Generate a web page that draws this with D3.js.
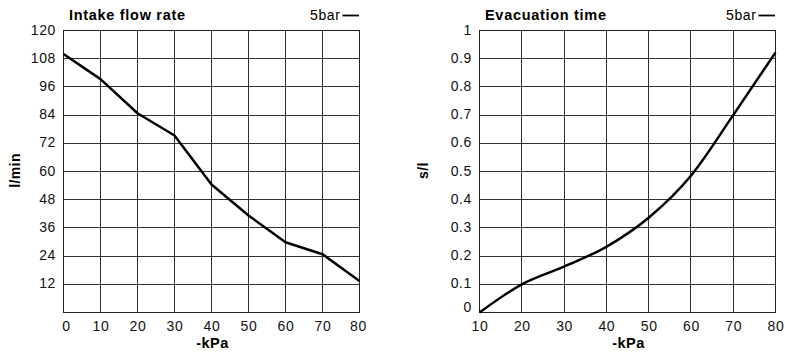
<!DOCTYPE html>
<html><head><meta charset="utf-8">
<script src="https://cdn.jsdelivr.net/npm/d3@7"></script>
<style>body{margin:0;background:#fff}svg{display:block}text{font-family:"Liberation Sans",Arial,sans-serif}</style>
</head><body>
<svg id="c" width="785" height="353"></svg>
<script>
// Intake flow rate chart
const flowKpa = [0, 10, 20, 30, 40, 50, 60, 70, 80];
const flowValues = [110, 99.3, 84.8, 75.3, 54.5, 41.3, 29.9, 24.8, 13.4];
const flowYTicks = [12, 24, 36, 48, 60, 72, 84, 96, 108, 120];
const flowXTicks = [0, 10, 20, 30, 40, 50, 60, 70, 80];
// Evacuation time chart
const evacKpa = [10, 20, 30, 40, 50, 60, 70, 80];
const evacValues = [0, 0.1, 0.163, 0.233, 0.336, 0.485, 0.7, 0.922];
const evacYTicks = [0, 0.1, 0.2, 0.3, 0.4, 0.5, 0.6, 0.7, 0.8, 0.9, 1];
const evacXTicks = [10, 20, 30, 40, 50, 60, 70, 80];

const svg = d3.select("#c");
const FONT = '"Liberation Sans",Arial,sans-serif';

function chart(o) {
  const g = svg.append("g");
  const x = d3.scaleLinear().domain(o.xDomain).range([o.x0, o.x1]);
  const y = d3.scaleLinear().domain(o.yDomain).range([o.y1, o.y0]);
  // grid
  g.selectAll(".vg").data(o.xTicks).enter().append("line")
    .attr("x1", d => x(d)).attr("x2", d => x(d)).attr("y1", o.y0).attr("y2", o.y1)
    .attr("stroke", "#333").attr("stroke-width", 1).attr("shape-rendering", "crispEdges");
  g.selectAll(".hg").data(o.yTicks).enter().append("line")
    .attr("x1", o.x0).attr("x2", o.x1).attr("y1", d => y(d)).attr("y2", d => y(d))
    .attr("stroke", "#333").attr("stroke-width", 1).attr("shape-rendering", "crispEdges");
  g.append("rect").attr("x", o.x0).attr("y", o.y0).attr("width", o.x1 - o.x0).attr("height", o.y1 - o.y0)
    .attr("fill", "none").attr("stroke", "#222").attr("stroke-width", 1).attr("shape-rendering", "crispEdges");
  // axes labels
  const xa = g.append("g").attr("transform", `translate(0,${o.y1})`)
    .call(d3.axisBottom(x).tickValues(o.xTicks).tickSize(0).tickPadding(9).tickFormat(d3.format("d")));
  xa.select(".domain").remove();
  xa.selectAll("text").attr("font-size", 14).attr("fill", "#111").style("font-family", FONT)
    .attr("letter-spacing", "0.6px")
    .attr("dx", d => d === 0 ? "2.5px" : (d === 80 && o.xDomain[0] === 0 ? "-1.5px" : "0px"));
  const ya = g.append("g").attr("transform", `translate(${o.x0},0)`)
    .call(d3.axisLeft(y).tickValues(o.yTicks).tickSize(0).tickPadding(7.5).tickFormat(o.yFmt));
  ya.select(".domain").remove();
  ya.selectAll("text").attr("font-size", 14).attr("fill", "#111").style("font-family", FONT)
    .attr("letter-spacing", "0.6px")
    .attr("dy", d => d === 0 ? "-0.08em" : "0.25em");
  // line
  const line = d3.line().x((d, i) => x(o.xs[i])).y(d => y(d)).curve(o.curve);
  g.append("path").datum(o.ys).attr("d", line).attr("fill", "none")
    .attr("stroke", "#000").attr("stroke-width", 2.5).attr("stroke-linejoin", "round");
  // titles
  g.append("text").attr("x", o.x0 + 5.5).attr("y", 20).attr("font-size", 14.5).attr("font-weight", "bold")
    .attr("letter-spacing", "0.7px").text(o.title);
  g.append("text").attr("x", o.x1 - 19).attr("y", 20).attr("font-size", 14).attr("text-anchor", "end")
    .attr("letter-spacing", "0.6px").text("5bar");
  g.append("line").attr("x1", o.x1 - 17).attr("x2", o.x1 - 0.5).attr("y1", 15.5).attr("y2", 15.5)
    .attr("stroke", "#000").attr("stroke-width", 1.8);
  g.append("text").attr("x", (o.x0 + o.x1) / 2 + 1).attr("y", 348).attr("font-size", 14.5).attr("font-weight", "bold")
    .attr("letter-spacing", "0.5px").attr("text-anchor", "middle").text("-kPa");
  g.append("text").attr("transform", `translate(${o.ylx},170.5) rotate(-90)`).attr("font-size", 14)
    .attr("letter-spacing", "0.4px").attr("font-weight", "bold").attr("text-anchor", "middle").text(o.yLabel);
}

chart({x0: 63.5, x1: 359.5, y0: 30.5, y1: 312.5, xDomain: [0, 80], yDomain: [0, 120],
  xTicks: flowXTicks, yTicks: flowYTicks, xs: flowKpa, ys: flowValues, yFmt: d3.format("d"),
  title: "Intake flow rate", yLabel: "l/min", ylx: 20, curve: d3.curveLinear});
chart({x0: 479.5, x1: 775.5, y0: 30.5, y1: 312.5, xDomain: [10, 80], yDomain: [0, 1],
  xTicks: evacXTicks, yTicks: evacYTicks, xs: evacKpa, ys: evacValues, yFmt: d => d === 0 ? "0" : (d === 1 ? "1" : d3.format(".1f")(d)),
  title: "Evacuation time", yLabel: "s/l", ylx: 427.5, curve: d3.curveMonotoneX});
</script>
</body></html>
